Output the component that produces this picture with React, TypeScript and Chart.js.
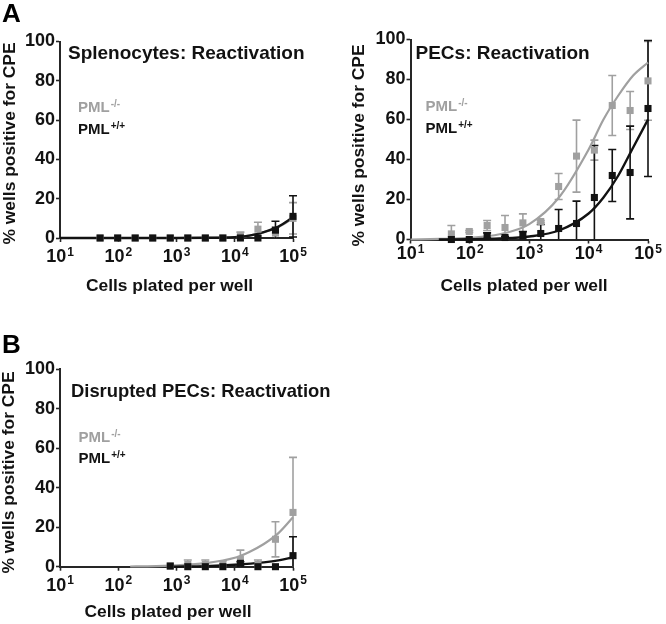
import React, { useEffect, useRef } from 'react';
import { Chart, registerables } from 'chart.js';

Chart.register(...registerables);

const PAGE_W = 666;
const PAGE_H = 624;
const FONT_FAMILY = 'Arial, "Liberation Sans", Helvetica, sans-serif';
const GRAY = '#a0a0a0';
const BLACK = '#121212';
const AXIS = '#262626';

// ---- axis ticks & labels ----
const xTickValues = [10, 100, 1000, 10000, 100000];
const xTickBase = '10';
const xTickExponents = ['1', '2', '3', '4', '5'];
const yTickValues = [0, 20, 40, 60, 80, 100];
const yAxisTitle = '% wells positive for CPE';
const xAxisTitle = 'Cells plated per well';
const legendBase = 'PML';
const koSup = '-/-';
const wtSup = '+/+';

// ---- cells plated per well (two-fold dilutions) ----
const dilutionCells = [48.8, 97.7, 195.3, 390.6, 781.3, 1562.5, 3125, 6250, 12500, 25000, 50000, 100000];
const disruptedCells = [781.3, 1562.5, 3125, 6250, 12500, 25000, 50000, 100000];

// ---- Splenocytes: Reactivation ----
const splKO = [0, 0, 0, 0, 0, 0, 0, 0, 1, 4.5, 2.5, 10];
const splKOErr = [0, 0, 0, 0, 0, 0, 0, 0, 2, 3.5, 3, 8];
const splWT = [0, 0, 0, 0, 0, 0, 0, 0, 0, 0, 4, 11];
const splWTErr = [0, 0, 0, 0, 0, 0, 0, 0, 0, 0, 4.5, 10.5];
const splCurveX = [10, 31.6, 100, 316, 1000, 3162, 10000, 17783, 31623, 56234, 100000];
const splKOCurve = [0, 0, 0, 0, 0, 0.1, 0.4, 1.2, 3, 5.6, 10];
const splWTCurve = [0, 0, 0, 0, 0, 0.1, 0.4, 1.2, 3, 5.8, 10.5];

// ---- PECs: Reactivation ----
const pecKO = [2.8, 4, 7, 6, 8.3, 9, 26.5, 41.7, 44.7, 67, 64.5, 79.3];
const pecKOErr = [4.2, 0.5, 2.5, 6, 4.5, 0.5, 6.5, 18, 5, 15, 9.5, 19.7];
const pecWT = [0, 0, 2, 1, 2, 3, 5.5, 8, 21, 32, 33.5, 65.5];
const pecWTErr = [0, 0, 1.3, 0.5, 2, 4.5, 9.5, 11.2, 26, 13, 23.2, 34];
const pecKOCurveX = [10, 31.6, 100, 316, 1000, 3162, 10000, 17783, 31623, 56234, 100000];
const pecKOCurve = [0, 0.3, 0.8, 2.6, 7.7, 21, 45, 60, 72, 82, 88.5];
const pecWTCurveX = [30, 100, 316, 1000, 3162, 10000, 17783, 31623, 56234, 100000];
const pecWTCurve = [0, 0.15, 0.5, 1.5, 4.5, 13, 21, 32, 46, 60];

// ---- Disrupted PECs: Reactivation ----
const disKO = [0.5, 1.2, 1.2, 1.2, 3.7, 1.2, 13.9, 27.5];
const disKOErr = [0, 2.2, 2.2, 1.8, 4.7, 2.2, 8.9, 27.9];
const disWT = [0.3, 0, 0, 0, 1.7, 0, 0, 5.6];
const disWTErr = [0, 0, 0, 0, 0.8, 0, 0, 9.6];
const disKOCurveX = [160, 316, 1000, 3162, 10000, 17783, 31623, 56234, 100000];
const disKOCurve = [0.1, 0.2, 0.7, 1.8, 4.5, 7.5, 11.5, 17, 25];
const disWTCurveX = [900, 3162, 10000, 31623, 56234, 100000];
const disWTCurve = [0, 0.3, 1, 2.2, 3.2, 4.8];

type Panel = {
  area: { left: number; right: number; top: number; bottom: number };
  yTitlePos: { x: number; y: number };
  xTitlePos: { x: number; y: number };
  xLabelOffset: number;
  letter?: { text: string; x: number; y: number };
  title: { text: string; x: number; y: number; size: number };
  legendX: number;
  legendKOY: number;
  legendWTY: number;
  cells: number[];
  ko: number[];
  koErr: number[];
  wt: number[];
  wtErr: number[];
  koCurveX: number[];
  koCurve: number[];
  wtCurveX: number[];
  wtCurve: number[];
};

const panels: Panel[] = [
  {
    area: { left: 60, right: 293, top: 41.5, bottom: 238 },
    yTitlePos: { x: 10, y: 143.5 },
    xTitlePos: { x: 169.5, y: 286 },
    xLabelOffset: 24,
    letter: { text: 'A', x: 2, y: 22 },
    title: { text: 'Splenocytes: Reactivation', x: 68, y: 59, size: 19 },
    legendX: 78,
    legendKOY: 112,
    legendWTY: 133.5,
    cells: dilutionCells,
    ko: splKO,
    koErr: splKOErr,
    wt: splWT,
    wtErr: splWTErr,
    koCurveX: splCurveX,
    koCurve: splKOCurve,
    wtCurveX: splCurveX,
    wtCurve: splWTCurve,
  },
  {
    area: { left: 410.5, right: 648, top: 39.5, bottom: 239.5 },
    yTitlePos: { x: 359.5, y: 145.5 },
    xTitlePos: { x: 524, y: 286.5 },
    xLabelOffset: 19.5,
    title: { text: 'PECs: Reactivation', x: 415.5, y: 59, size: 19 },
    legendX: 425.5,
    legendKOY: 111,
    legendWTY: 133,
    cells: dilutionCells,
    ko: pecKO,
    koErr: pecKOErr,
    wt: pecWT,
    wtErr: pecWTErr,
    koCurveX: pecKOCurveX,
    koCurve: pecKOCurve,
    wtCurveX: pecWTCurveX,
    wtCurve: pecWTCurve,
  },
  {
    area: { left: 60, right: 293, top: 369.3, bottom: 566.7 },
    yTitlePos: { x: 9.5, y: 472.5 },
    xTitlePos: { x: 168, y: 612.5 },
    xLabelOffset: 24,
    letter: { text: 'B', x: 2, y: 353 },
    title: { text: 'Disrupted PECs: Reactivation', x: 71, y: 397, size: 18.4 },
    legendX: 78.5,
    legendKOY: 441.5,
    legendWTY: 463,
    cells: disruptedCells,
    ko: disKO,
    koErr: disKOErr,
    wt: disWT,
    wtErr: disWTErr,
    koCurveX: disKOCurveX,
    koCurve: disKOCurve,
    wtCurveX: disWTCurveX,
    wtCurve: disWTCurve,
  },
];

const Y_W = 60;
const X_H = 56;
const AXIS_TITLE_FONT = 17.4;
const TICK_FONT = 18;

const errorBarPlugin = {
  id: 'errorBars',
  beforeDatasetsDraw(chart: any, _args: any, opts: any) {
    const ctx = chart.ctx;
    const xs = chart.scales.x;
    const ys = chart.scales.y;
    const ca = chart.chartArea;
    ctx.save();
    ctx.beginPath();
    ctx.rect(ca.left - 10, ca.top - 3, ca.right - ca.left + 20, ca.bottom - ca.top + 3);
    ctx.clip();
    for (const s of opts.series || []) {
      ctx.strokeStyle = s.color;
      ctx.lineWidth = 1.6;
      s.xs.forEach((xv: number, i: number) => {
        const e = s.errs[i];
        if (!e) return;
        const px = xs.getPixelForValue(xv);
        const hi = ys.getPixelForValue(s.ys[i] + e);
        const loVal = s.ys[i] - e;
        const lo = ys.getPixelForValue(Math.max(0, loVal));
        ctx.beginPath();
        ctx.moveTo(px, hi);
        ctx.lineTo(px, lo);
        ctx.moveTo(px - 4, hi);
        ctx.lineTo(px + 4, hi);
        if (loVal >= 0) {
          ctx.moveTo(px - 4, lo);
          ctx.lineTo(px + 4, lo);
        }
        ctx.stroke();
      });
    }
    ctx.restore();
  },
};

const supTickPlugin = {
  id: 'supTicks',
  afterDraw(chart: any, _args: any, opts: any) {
    const ctx = chart.ctx;
    const xs = chart.scales.x;
    const ys = chart.scales.y;
    const baseY = ys.getPixelForValue(0) + opts.offset;
    ctx.save();
    ctx.fillStyle = BLACK;
    ctx.textAlign = 'left';
    ctx.textBaseline = 'alphabetic';
    xTickValues.forEach((v, i) => {
      const px = xs.getPixelForValue(v);
      ctx.font = `bold ${TICK_FONT}px ${FONT_FAMILY}`;
      const wb = ctx.measureText(xTickBase).width;
      ctx.font = `bold 12px ${FONT_FAMILY}`;
      const wsup = ctx.measureText(xTickExponents[i]).width;
      const start = px - (wb + wsup + 1) / 2;
      ctx.font = `bold ${TICK_FONT}px ${FONT_FAMILY}`;
      ctx.fillText(xTickBase, start, baseY);
      ctx.font = `bold 12px ${FONT_FAMILY}`;
      ctx.fillText(xTickExponents[i], start + wb + 1, baseY - 6.5);
    });
    ctx.restore();
  },
};

const panelTextPlugin = {
  id: 'panelText',
  afterDraw(chart: any, _args: any, opts: any) {
    const ctx = chart.ctx;
    const p: Panel = opts.panel;
    ctx.save();
    ctx.textAlign = 'left';
    ctx.textBaseline = 'alphabetic';
    if (p.letter) {
      ctx.fillStyle = '#000';
      ctx.font = `bold 26px ${FONT_FAMILY}`;
      ctx.fillText(p.letter.text, p.letter.x, p.letter.y);
    }
    ctx.fillStyle = BLACK;
    ctx.font = `bold ${p.title.size}px ${FONT_FAMILY}`;
    ctx.fillText(p.title.text, p.title.x, p.title.y);

    // axis titles
    ctx.font = `bold ${AXIS_TITLE_FONT}px ${FONT_FAMILY}`;
    ctx.textAlign = 'center';
    ctx.textBaseline = 'middle';
    ctx.fillText(xAxisTitle, p.xTitlePos.x, p.xTitlePos.y);
    ctx.save();
    ctx.translate(p.yTitlePos.x, p.yTitlePos.y);
    ctx.rotate(-Math.PI / 2);
    ctx.fillText(yAxisTitle, 0, 0);
    ctx.restore();

    ctx.textAlign = 'left';
    ctx.textBaseline = 'alphabetic';
    const items = [
      { sup: koSup, color: GRAY, y: p.legendKOY },
      { sup: wtSup, color: BLACK, y: p.legendWTY },
    ];
    for (const it of items) {
      ctx.fillStyle = it.color;
      ctx.font = `bold 15px ${FONT_FAMILY}`;
      ctx.fillText(legendBase, p.legendX, it.y);
      const w = ctx.measureText(legendBase).width;
      ctx.font = `bold 10px ${FONT_FAMILY}`;
      ctx.fillText(it.sup, p.legendX + w + 1, it.y - 5);
    }
    ctx.restore();
  },
};

const pts = (xs: number[], ys: number[]) => xs.map((x, i) => ({ x, y: ys[i] }));

function buildConfig(p: Panel): any {
  const a = p.area;
  const gridOpts = {
    display: true,
    drawOnChartArea: false,
    drawTicks: true,
    tickLength: 4,
    tickWidth: 1.6,
    tickColor: AXIS,
    color: AXIS,
  };
  const borderOpts = { display: true, color: AXIS, width: 2 };
  return {
    type: 'scatter',
    data: {
      datasets: [
        {
          label: 'PML+/+',
          data: pts(p.cells, p.wt),
          showLine: false,
          pointStyle: 'rect',
          pointRadius: 5,
          pointBorderWidth: 0,
          backgroundColor: BLACK,
          borderColor: BLACK,
          clip: false,
          order: 0,
        },
        {
          label: 'PML-/-',
          data: pts(p.cells, p.ko),
          showLine: false,
          pointStyle: 'rect',
          pointRadius: 5,
          pointBorderWidth: 0,
          backgroundColor: GRAY,
          borderColor: GRAY,
          clip: false,
          order: 1,
        },
        {
          label: 'PML+/+ fit',
          data: pts(p.wtCurveX, p.wtCurve),
          showLine: true,
          pointRadius: 0,
          borderColor: BLACK,
          backgroundColor: BLACK,
          borderWidth: 2.4,
          cubicInterpolationMode: 'monotone',
          clip: 3,
          order: 2,
        },
        {
          label: 'PML-/- fit',
          data: pts(p.koCurveX, p.koCurve),
          showLine: true,
          pointRadius: 0,
          borderColor: GRAY,
          backgroundColor: GRAY,
          borderWidth: 2.2,
          cubicInterpolationMode: 'monotone',
          clip: 3,
          order: 3,
        },
      ],
    },
    options: {
      animation: false,
      responsive: false,
      devicePixelRatio: 1,
      events: [],
      layout: {
        padding: {
          left: a.left - Y_W,
          right: PAGE_W - a.right,
          top: a.top,
          bottom: PAGE_H - a.bottom - X_H,
        },
      },
      plugins: {
        legend: { display: false },
        tooltip: { enabled: false },
        title: { display: false },
        errorBars: {
          series: [
            { xs: p.cells, ys: p.ko, errs: p.koErr, color: GRAY },
            { xs: p.cells, ys: p.wt, errs: p.wtErr, color: BLACK },
          ],
        },
        supTicks: { offset: p.xLabelOffset },
        panelText: { panel: p },
      },
      scales: {
        x: {
          type: 'logarithmic',
          min: 10,
          max: 100000,
          afterBuildTicks: (s: any) => {
            s.ticks = xTickValues.map((v) => ({ value: v }));
          },
          afterFit: (s: any) => {
            s.height = X_H;
          },
          ticks: { callback: () => '', autoSkip: false },
          grid: gridOpts,
          border: borderOpts,
          title: { display: false },
        },
        y: {
          type: 'linear',
          min: 0,
          max: 100,
          afterBuildTicks: (s: any) => {
            s.ticks = yTickValues.map((v) => ({ value: v }));
          },
          afterFit: (s: any) => {
            s.width = Y_W;
          },
          ticks: {
            autoSkip: false,
            padding: 1,
            color: BLACK,
            font: { family: FONT_FAMILY, size: TICK_FONT, weight: 'bold' },
          },
          grid: gridOpts,
          border: borderOpts,
          title: { display: false },
        },
      },
    },
    plugins: [errorBarPlugin, supTickPlugin, panelTextPlugin],
  };
}

function PanelChart({ panel }: { panel: Panel }) {
  const ref = useRef<HTMLCanvasElement | null>(null);
  useEffect(() => {
    if (!ref.current) return;
    const chart = new Chart(ref.current, buildConfig(panel));
    return () => chart.destroy();
  }, [panel]);
  return (
    <canvas
      ref={ref}
      width={PAGE_W}
      height={PAGE_H}
      style={{ position: 'absolute', left: 0, top: 0, width: PAGE_W, height: PAGE_H }}
    />
  );
}

export default function App() {
  return (
    <div
      style={{
        position: 'absolute',
        left: 0,
        top: 0,
        width: PAGE_W,
        height: PAGE_H,
        background: '#fff',
        overflow: 'hidden',
      }}
    >
      {panels.map((p, i) => (
        <PanelChart key={i} panel={p} />
      ))}
    </div>
  );
}
